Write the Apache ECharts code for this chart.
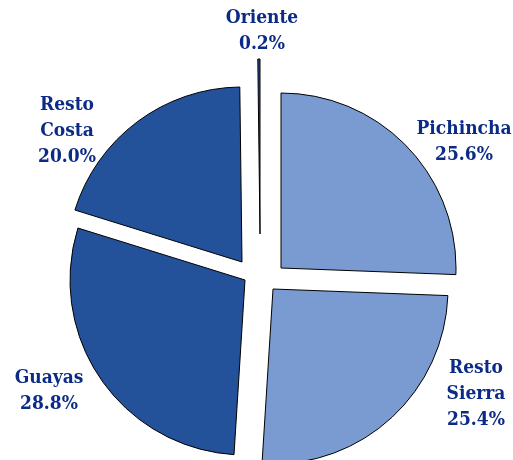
<!DOCTYPE html>
<html>
<head>
<meta charset="utf-8">
<style>
  html, body { margin: 0; padding: 0; background: #fff; }
  #chart { width: 513px; height: 460px; }
</style>
<script src="https://cdn.jsdelivr.net/npm/echarts@6/dist/echarts.min.js"></script>
</head>
<body>
<div id="chart"></div>
<script>
// data (shares in %)
const regions = ['Pichincha', 'Resto Sierra', 'Guayas', 'Resto Costa', 'Oriente']
const shares = [25.6, 25.4, 28.8, 20.0, 0.2]
const colors = ['#7a9bd1', '#7a9bd1', '#23529a', '#23529a', '#23529a']

// exploded layout: each slice gets its own tip point, labels placed by hand
const tips = [[281, 268], [273, 289], [245, 280], [242, 262], [260, 234]]
const labelPos = [[464, 142], [476, 394], [49, 391], [67, 131], [262, 31]]
const radius = 175

const chart = echarts.init(document.getElementById('chart'), null, { renderer: 'canvas' })

const series = regions.map((r, i) => ({
  type: 'pie',
  silent: true,
  animation: false,
  radius: [0, radius],
  center: tips[i],
  startAngle: 90,
  clockwise: true,
  avoidLabelOverlap: false,
  labelLine: { show: false },
  label: {
    show: true,
    position: 'outside',
    color: '#0c2b86',
    fontFamily: '"DejaVu Serif Condensed", "DejaVu Serif"',
    fontWeight: 'bold',
    fontSize: 19,
    lineHeight: 26,
    align: 'center',
    formatter: p => p.name.replace(' ', '\n') + '\n' + p.value.toFixed(1) + '%'
  },
  labelLayout: () => ({
    x: labelPos[i][0],
    y: labelPos[i][1],
    align: 'center',
    verticalAlign: 'middle'
  }),
  data: regions.map((name, j) => (j === i ? {
    name,
    value: shares[j],
    itemStyle: { color: colors[j], borderColor: '#000', borderWidth: 1 }
  } : {
    name,
    value: shares[j],
    itemStyle: { color: 'transparent', borderWidth: 0 },
    label: { show: false }
  }))
}))

chart.setOption({
  backgroundColor: '#fff',
  series
})
</script>
</body>
</html>
